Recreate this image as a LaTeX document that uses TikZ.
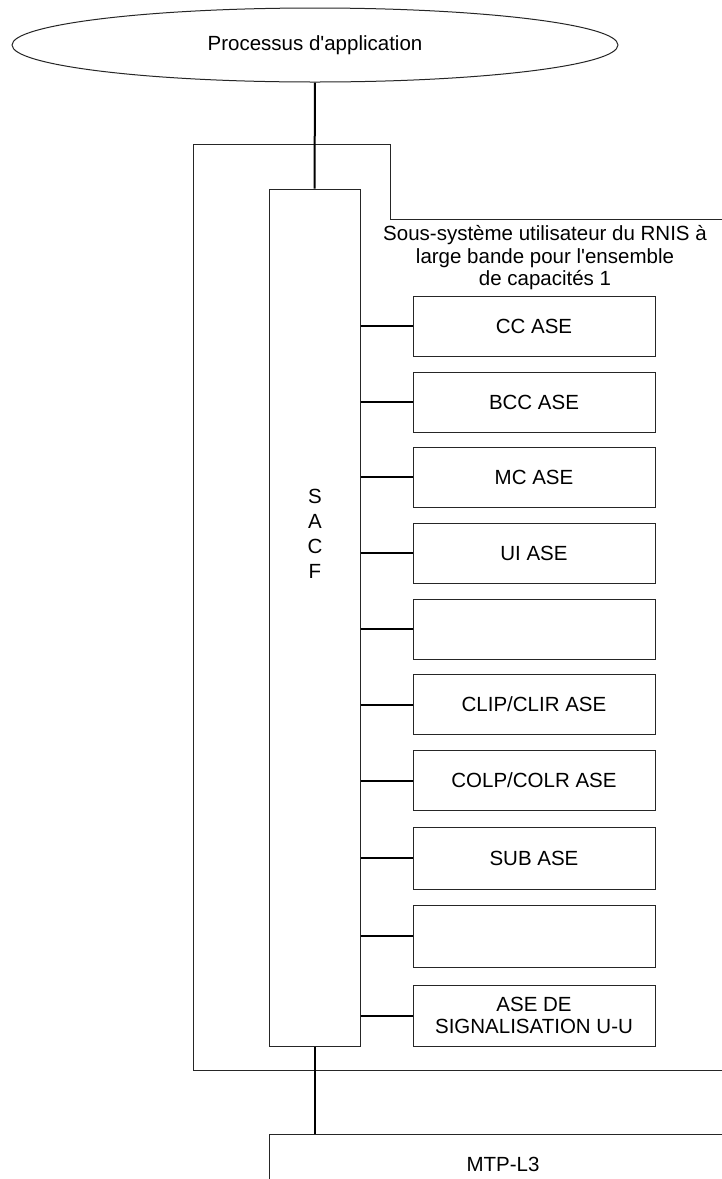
\documentclass[tikz,border=0pt]{standalone}
\usepackage{fontspec}
\setmainfont{Liberation Sans}
\usetikzlibrary{shapes.geometric}
\begin{document}
\begin{tikzpicture}[x=1pt,y=-1pt,
  txt/.style={font=\fontsize{20.5}{22.5}\selectfont,align=center,inner sep=0pt},
  box/.style={txt,draw=black!85,line width=1pt,minimum width=242pt,minimum height=60pt},
  wire/.style={line width=2pt,black},
  frame/.style={draw=black!85,line width=1pt}]
\clip (0,0) rectangle (722,1179);
\fill[white] (0,0) rectangle (722,1179);

% application process
\node[txt,ellipse,draw=black!85,line width=1pt,minimum width=606pt,minimum height=74pt] (proc) at (315,45) {Processus d\textquotesingle application};

% outer subsystem frame
\draw[frame] (740,219) -- (390,219) -- (390,144) -- (193,144) -- (193,1070) -- (740,1070);
\node[txt] (title) at (545,258) {Sous-système utilisateur du RNIS à\\large bande pour l\textquotesingle ensemble\\de capacités 1};

% SACF
\node[frame,minimum width=91pt,minimum height=857pt,inner sep=0pt] (sacf) at (314.5,617.5) {};
\node[txt,font=\fontsize{20.5}{25}\selectfont] (sacft) at (315,534) {S\\A\\C\\F};

% ASE boxes
\node[box] (b1) at (534,326) {CC ASE};
\node[box] (b2) at (534,402) {BCC ASE};
\node[box] (b3) at (534,477) {MC ASE};
\node[box] (b4) at (534,553) {UI ASE};
\node[box] (b5) at (534,629) {};
\node[box] (b6) at (534,704.5) {CLIP/CLIR ASE};
\node[box] (b7) at (534,780.5) {COLP/COLR ASE};
\node[box,minimum height=62pt] (b8) at (534,858) {SUB ASE};
\node[box,minimum height=62pt] (b9) at (534,936) {};
\node[box,minimum height=61pt] (b10) at (534,1015.5) {ASE DE\\SIGNALISATION U-U};

\foreach \b in {b1,b2,b3,b4,b5,b6,b7,b8,b9,b10}
  \draw[wire] (sacf.east |- \b.west) -- (\b.west);

% MTP-L3
\coordinate (mtpl) at (269,1200);
\coordinate (mtptl) at (269,1134);
\coordinate (mtptr) at (740,1134);
\draw[frame] (mtpl) -- (mtptl) -- (mtptr);
\node[txt] (mtp) at (503,1164) {MTP-L3};

% vertical connections
\draw[wire] (proc.south) -- (sacf.north);
\draw[wire] (sacf.south) -- (sacf.south |- mtptl);
\end{tikzpicture}
\end{document}
